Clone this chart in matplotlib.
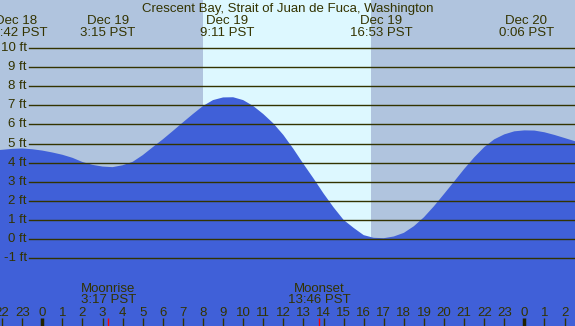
import matplotlib
matplotlib.use("Agg")
import matplotlib.pyplot as plt
from matplotlib import transforms

plt.rcParams['font.family'] = ['Liberation Sans', 'DejaVu Sans']

title = "Crescent Bay, Strait of Juan de Fuca, Washington"

# Tide heights every half hour (hours relative to Dec 19 0:00)
curve_hours = [-2.11, -2.0, -1.5, -1.0, -0.5, 0.0, 0.5, 1.0, 1.5, 2.0, 2.5,
               3.0, 3.5, 4.0, 4.5, 5.0, 5.5, 6.0, 6.5, 7.0, 7.5, 8.0, 8.5,
               9.0, 9.5, 10.0, 10.5, 11.0, 11.5, 12.0, 12.5, 13.0, 13.5, 14.0,
               14.5, 15.0, 15.5, 16.0, 16.5, 17.0, 17.5, 18.0, 18.5, 19.0,
               19.5, 20.0, 20.5, 21.0, 21.5, 22.0, 22.5, 23.0, 23.5, 24.0,
               24.5, 25.0, 25.5, 26.0, 26.52]
curve_ft = [4.66, 4.67, 4.72, 4.74, 4.70, 4.63, 4.53, 4.41, 4.25, 4.03, 3.88,
            3.79, 3.76, 3.86, 4.04, 4.39, 4.81, 5.22, 5.66, 6.11, 6.55, 6.97,
            7.28, 7.42, 7.43, 7.28, 6.97, 6.55, 6.06, 5.45, 4.72, 3.93, 3.17,
            2.38, 1.65, 0.99, 0.57, 0.19, 0.05, 0.03, 0.12, 0.31, 0.66, 1.13,
            1.71, 2.35, 3.00, 3.66, 4.27, 4.81, 5.22, 5.48, 5.64, 5.69, 5.68,
            5.59, 5.45, 5.29, 5.12]

# High / low tide events
ext_hours = [-1.3, 3.25, 9.183, 16.883, 24.1]
ext_dates = ["Dec 18", "Dec 19", "Dec 19", "Dec 19", "Dec 20"]
ext_times = ["22:42 PST", "3:15 PST", "9:11 PST", "16:53 PST", "0:06 PST"]

# Sun and moon
sunrise_h = 8.0
sunset_h = 16.37
moon_hours = [3.283, 13.767]
moon_names = ["Moonrise", "Moonset"]
moon_times = ["3:17 PST", "13:46 PST"]

# Axis
ft_levels = list(range(-1, 11))
hour_ticks = list(range(-2, 27))
hour_labels = [str(h % 24) for h in hour_ticks]

W, H = 575, 326
X0, X1 = -2.106, 26.52
Y0, Y1 = -4.58, 12.535

BG = "#b0c4de"
DAY = "#ddf8ff"
WATER = "#4060d8"
LINE = "#333300"
TXT = "#333300"
FS = 9.5

fig = plt.figure(figsize=(W / 100, H / 100), dpi=100)
ax = fig.add_axes([0, 0, 1, 1])
ax.set_xlim(X0, X1)
ax.set_ylim(Y0, Y1)
ax.axis('off')
fig.patch.set_facecolor(BG)
ax.set_facecolor(BG)


def fy(p):
    return 1 - p / H


ax.axvspan(sunrise_h, sunset_h, color=DAY, zorder=1, lw=0)
ax.fill_between(curve_hours, curve_ft, Y0, color=WATER, zorder=2, lw=0)

pix_y = transforms.blended_transform_factory(
    transforms.Affine2D().scale(fig.dpi / 100), ax.transData)
for lv in ft_levels:
    ax.axhline(lv, xmin=29 / W, xmax=1, color=LINE, lw=1.0, zorder=3)
    ax.text(27, lv, f"{lv} ft", transform=pix_y,
            ha='right', va='center', fontsize=FS, color=TXT, zorder=4)

ax.text(0.5, fy(12), title, transform=ax.transAxes, ha='center',
        va='baseline', fontsize=FS, color=TXT, zorder=5)

xt = ax.get_xaxis_transform()
for h, d, t in zip(ext_hours, ext_dates, ext_times):
    ax.text(h, fy(24), d, transform=xt, ha='center', va='baseline',
            fontsize=FS, color=TXT, zorder=5)
    ax.text(h, fy(36), t, transform=xt, ha='center', va='baseline',
            fontsize=FS, color=TXT, zorder=5)

for h, lab in zip(hour_ticks, hour_labels):
    mid = (h % 24 == 0)
    ax.plot([h, h], [fy(318), fy(326)], transform=xt,
            color='#222200' if mid else LINE,
            lw=2.5 if mid else 1.0, solid_capstyle='butt', zorder=5)
    ax.text(h, fy(316), lab, transform=xt, ha='center', va='baseline',
            fontsize=FS, color=TXT, zorder=5)

for h, n, t in zip(moon_hours, moon_names, moon_times):
    ax.plot([h, h], [fy(318), fy(326)], transform=xt, color='red', lw=1.0,
            solid_capstyle='butt', zorder=6)
    ax.text(h, fy(291.7), n, transform=xt, ha='center', va='baseline',
            fontsize=FS, color=TXT, zorder=5)
    ax.text(h, fy(303.3), t, transform=xt, ha='center', va='baseline',
            fontsize=FS, color=TXT, zorder=5)

fig.savefig("out.png", dpi=100, facecolor=BG)
